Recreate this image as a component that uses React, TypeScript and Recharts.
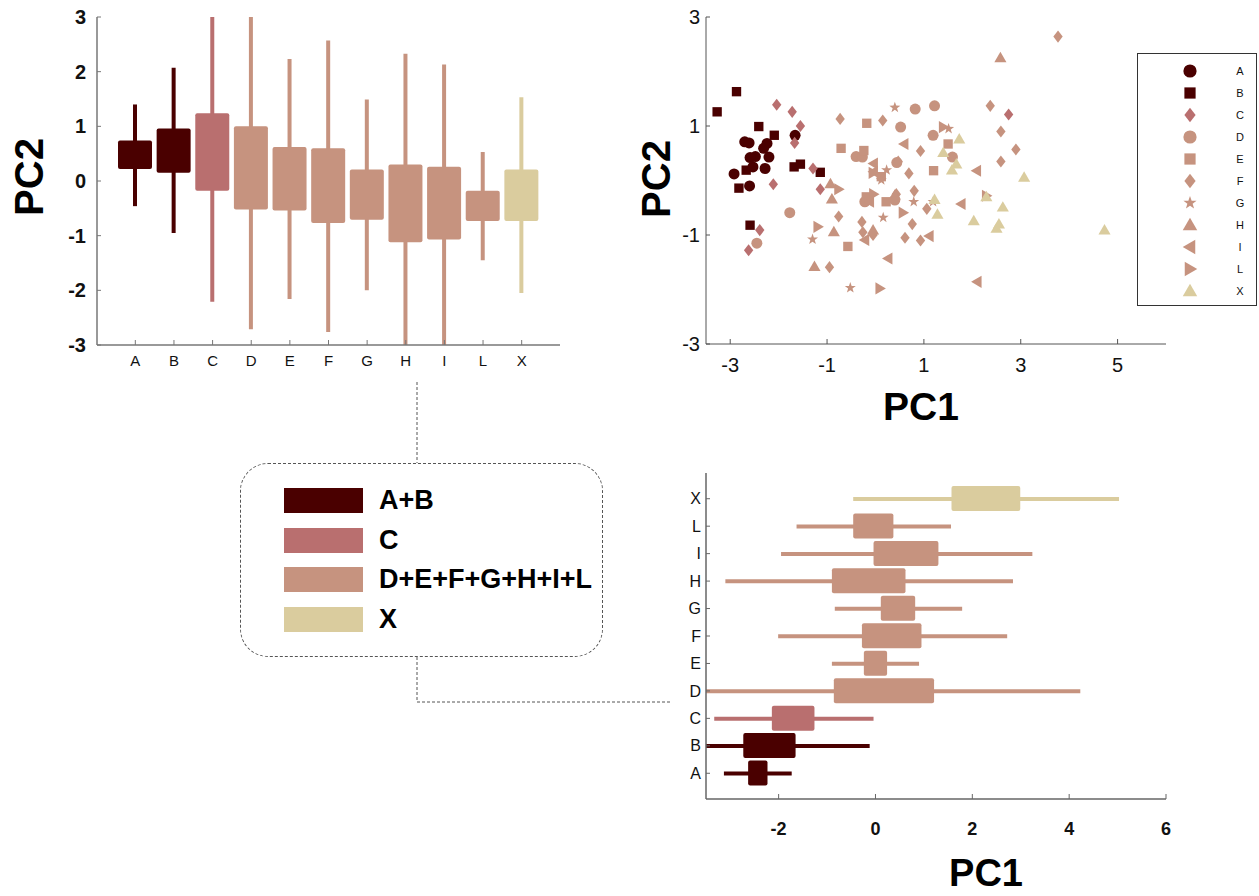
import React from 'react';
import {
    ComposedChart,
    ScatterChart,
    Scatter,
    Bar,
    Cell,
    XAxis,
    YAxis,
    Legend
} from 'recharts';

const FONT = '"Liberation Sans", Arial, Helvetica, sans-serif';

// groups, colours and marker kinds
const groups = ['A', 'B', 'C', 'D', 'E', 'F', 'G', 'H', 'I', 'L', 'X'];
const groupColors = ['#4a0000', '#4a0000', '#b96f6f', '#c6937f', '#c6937f', '#c6937f', '#c6937f', '#c6937f', '#c6937f', '#c6937f', '#dacc9e'];
const groupMarkers = ['circle', 'square', 'diamond', 'circle', 'square', 'diamond', 'star', 'triangle', 'triangleLeft', 'triangleRight', 'triangle'];

// PC2 by group (top left)
const pc2Q1 = [0.22, 0.15, -0.18, -0.52, -0.54, -0.77, -0.71, -1.12, -1.07, -0.73, -0.73];
const pc2Q3 = [0.74, 0.96, 1.24, 1.00, 0.62, 0.60, 0.21, 0.30, 0.26, -0.18, 0.21];
const pc2Min = [-0.46, -0.95, -2.21, -2.71, -2.16, -2.76, -2.00, -3.00, -3.00, -1.45, -2.05];
const pc2Max = [1.40, 2.07, 3.00, 3.00, 2.23, 2.57, 1.49, 2.33, 2.13, 0.53, 1.53];

// PC1 by group (bottom right)
const pc1Q1 = [-2.63, -2.73, -2.14, -0.86, -0.24, -0.28, 0.11, -0.90, -0.04, -0.46, 1.57];
const pc1Q3 = [-2.23, -1.65, -1.26, 1.21, 0.24, 0.95, 0.82, 0.62, 1.30, 0.37, 2.99];
const pc1Min = [-3.13, -3.50, -3.33, -3.50, -0.90, -2.01, -0.84, -3.10, -1.95, -1.63, -0.46];
const pc1Max = [-1.73, -0.12, -0.04, 4.23, 0.90, 2.72, 1.79, 2.84, 3.24, 1.56, 5.03];

// PCA scores [PC1, PC2]
const scoresA = [[-2.70, 0.71], [-2.61, 0.69], [-2.24, 0.68], [-2.31, 0.59], [-2.48, 0.44], [-2.59, 0.42], [-2.20, 0.43], [-2.53, 0.25], [-2.28, 0.22], [-2.92, 0.12], [-2.60, -0.10], [-1.66, 0.83]];
const scoresB = [[-3.27, 1.26], [-2.87, 1.63], [-2.41, 0.99], [-2.09, 0.83], [-2.67, 0.19], [-2.82, -0.14], [-2.59, -0.82], [-1.68, 0.25], [-1.55, 0.30], [-1.14, 0.15]];
const scoresC = [[-2.04, 1.39], [-1.72, 1.26], [-1.55, 1.00], [-1.67, 0.69], [-1.29, 0.22], [-1.14, -0.16], [-2.11, -0.07], [-2.39, -0.91], [-2.62, -1.28], [2.75, 1.21]];
const scoresD = [[0.52, 0.98], [0.82, 1.31], [1.22, 1.37], [1.19, 0.83], [1.59, 0.43], [-0.40, 0.44], [-0.27, 0.43], [-0.22, -0.39], [-1.77, -0.59], [-2.45, -1.15], [0.44, 0.33], [0.40, -0.36]];
const scoresE = [[-0.18, 1.05], [-0.71, 0.59], [-0.24, 0.55], [0.12, 0.07], [1.20, 0.18], [1.50, 0.67], [-0.57, -1.21], [0.22, -0.39], [-0.19, -0.30]];
const scoresF = [[-0.73, 1.13], [0.15, 1.10], [0.93, 0.54], [0.47, 0.35], [0.69, 0.13], [0.80, -0.19], [-0.76, -0.66], [-0.28, -0.76], [-0.26, -0.95], [-0.05, -1.00], [0.76, -0.80], [0.61, -1.05], [0.93, -1.10], [1.06, -0.52], [2.37, 1.37], [2.59, 0.90], [2.90, 0.57], [2.59, 0.35], [-0.95, -1.59], [3.77, 2.64], [0.43, -0.25]];
const scoresG = [[0.40, 1.34], [1.51, 0.95], [0.23, 0.19], [0.12, 0.01], [0.79, -0.39], [0.16, -0.68], [-1.30, -1.08], [-0.52, -1.97], [1.19, -0.39]];
const scoresH = [[2.58, 2.25], [-0.93, -0.06], [-0.90, -0.34], [-0.86, -0.94], [-1.26, -1.58], [-0.05, -0.91], [0.40, -0.27]];
const scoresI = [[0.59, 0.67], [-0.04, 0.31], [2.09, 0.18], [1.77, -0.43], [1.11, -1.02], [0.26, -1.43], [2.10, -1.86], [-0.04, 0.16], [-0.22, -1.09], [-0.12, -0.39]];
const scoresL = [[1.40, 0.98], [-0.05, 0.14], [-0.76, -0.16], [-0.04, -0.25], [-1.19, -0.85], [0.57, -0.59], [0.09, -1.98], [2.29, -0.28]];
const scoresX = [[1.73, 0.76], [1.40, 0.51], [1.67, 0.30], [1.58, 0.19], [3.07, 0.06], [1.22, -0.35], [1.28, -0.62], [2.29, -0.30], [2.63, -0.49], [2.03, -0.74], [2.55, -0.80], [2.50, -0.88], [4.73, -0.91]];
const scoresByGroup = [scoresA, scoresB, scoresC, scoresD, scoresE, scoresF, scoresG, scoresH, scoresI, scoresL, scoresX];

// merged groups legend
const mergedLabels = ['A+B', 'C', 'D+E+F+G+H+I+L', 'X'];
const mergedColors = ['#4a0000', '#b96f6f', '#c6937f', '#dacc9e'];

const pc2Rows = groups.map((g, i) => ({
    name: g,
    box: [pc2Q1[i], pc2Q3[i]],
    whisker: [pc2Min[i], pc2Max[i]]
}));

const pc1Rows = groups.map((g, i) => ({
    name: g,
    box: [pc1Q1[i], pc1Q3[i]],
    whisker: [pc1Min[i], pc1Max[i]]
}));

const Marker = ({ cx, cy, fill, kind, s = 1 }: any) => {
    if (cx === undefined || cy === undefined) return null;
    const r = 5.5 * s;
    switch (kind) {
        case 'circle':
            return <circle cx={cx} cy={cy} r={r} fill={fill} />;
        case 'square':
            return <rect x={cx - r * 0.85} y={cy - r * 0.85} width={r * 1.7} height={r * 1.7} fill={fill} />;
        case 'diamond':
            return <polygon points={`${cx},${cy - r * 1.1} ${cx + r * 0.85},${cy} ${cx},${cy + r * 1.1} ${cx - r * 0.85},${cy}`} fill={fill} />;
        case 'star': {
            const pts: string[] = [];
            for (let k = 0; k < 10; k++) {
                const rad = k % 2 === 0 ? r * 1.05 : r * 0.42;
                const a = -Math.PI / 2 + (k * Math.PI) / 5;
                pts.push(`${cx + rad * Math.cos(a)},${cy + rad * Math.sin(a)}`);
            }
            return <polygon points={pts.join(' ')} fill={fill} />;
        }
        case 'triangle':
            return <polygon points={`${cx},${cy - r * 1.1} ${cx + r * 1.1},${cy + r * 0.8} ${cx - r * 1.1},${cy + r * 0.8}`} fill={fill} />;
        case 'triangleLeft':
            return <polygon points={`${cx - r * 1.1},${cy} ${cx + r * 0.8},${cy - r * 1.1} ${cx + r * 0.8},${cy + r * 1.1}`} fill={fill} />;
        case 'triangleRight':
            return <polygon points={`${cx + r * 1.1},${cy} ${cx - r * 0.8},${cy - r * 1.1} ${cx - r * 0.8},${cy + r * 1.1}`} fill={fill} />;
        default:
            return null;
    }
};

const ScoreLegend = () => (
    <div style={{ width: 120, height: 253, border: '1.5px solid #333', boxSizing: 'border-box', background: '#fff' }}>
        <svg width={117} height={250}>
            {groups.map((g, i) => (
                <g key={g}>
                    <Marker cx={52} cy={17 + i * 22} fill={groupColors[i]} kind={groupMarkers[i]} s={1.2} />
                    <text x={102} y={17 + i * 22} dy="0.36em" textAnchor="middle" fontSize={11} fontFamily={FONT} fill="#111">{g}</text>
                </g>
            ))}
        </svg>
    </div>
);

const App: React.FC = () => {
    const cells = groups.map((g, i) => <Cell key={`c-${g}`} fill={groupColors[i]} />);

    return (
        <div style={{ position: 'absolute', left: 0, top: 0, width: 1259, height: 896, background: '#fff', fontFamily: FONT }}>
            {/* PC2 by group */}
            <div style={{ position: 'absolute', left: 0, top: 0 }}>
                <ComposedChart width={580} height={380} data={pc2Rows} margin={{ top: 17, right: 20, bottom: 5, left: 37 }}>
                    <XAxis
                        xAxisId="box"
                        dataKey="name"
                        type="category"
                        interval={0}
                        padding={{ left: 19, right: 19 }}
                        height={30}
                        axisLine={{ stroke: '#777', strokeWidth: 1.5 }}
                        tickLine={{ stroke: '#777' }}
                        tickSize={-5}
                        tickMargin={15}
                        tick={{ fontSize: 15, fill: '#111', fontFamily: FONT }}
                    />
                    <XAxis xAxisId="wh" dataKey="name" type="category" padding={{ left: 19, right: 19 }} hide />
                    <YAxis
                        type="number"
                        domain={[-3, 3]}
                        ticks={[-3, -2, -1, 0, 1, 2, 3]}
                        allowDataOverflow
                        width={60}
                        axisLine={{ stroke: '#777', strokeWidth: 1.5 }}
                        tickLine={{ stroke: '#777' }}
                        tickSize={-4}
                        tickMargin={15}
                        tick={{ fontSize: 20, fontWeight: 'bold', fill: '#111', fontFamily: FONT }}
                    />
                    <Bar xAxisId="wh" dataKey="whisker" barSize={4} isAnimationActive={false}>{cells}</Bar>
                    <Bar xAxisId="box" dataKey="box" barSize={34} radius={2} isAnimationActive={false}>{cells}</Bar>
                </ComposedChart>
            </div>

            {/* PCA scores */}
            <div style={{ position: 'absolute', left: 600, top: 0 }}>
                <ScatterChart width={659} height={400} margin={{ top: 17, right: 93, bottom: 16, left: 56 }}>
                    <XAxis
                        dataKey="x"
                        type="number"
                        domain={[-3.5, 6]}
                        ticks={[-3, -1, 1, 3, 5]}
                        allowDataOverflow
                        height={40}
                        axisLine={{ stroke: '#555' }}
                        tickLine={{ stroke: '#555' }}
                        tickSize={-5}
                        tickMargin={19}
                        tick={{ fontSize: 20, fill: '#111', fontFamily: FONT }}
                    />
                    <YAxis
                        dataKey="y"
                        type="number"
                        domain={[-3, 3]}
                        ticks={[-3, -1, 1, 3]}
                        allowDataOverflow
                        width={50}
                        axisLine={{ stroke: '#555' }}
                        tickLine={{ stroke: '#555' }}
                        tickSize={-4}
                        tickMargin={10}
                        tick={{ fontSize: 20, fill: '#111', fontFamily: FONT }}
                    />
                    {scoresByGroup.map((pts, i) => (
                        <Scatter
                            key={groups[i]}
                            name={groups[i]}
                            data={pts.map(([x, y]) => ({ x, y }))}
                            isAnimationActive={false}
                            shape={(p: any) => <Marker cx={p.cx} cy={p.cy} fill={groupColors[i]} kind={groupMarkers[i]} />}
                        />
                    ))}
                    <Legend
                        layout="vertical"
                        align="center"
                        verticalAlign="middle"
                        wrapperStyle={{ left: 537, top: 53, width: 120, height: 253 }}
                        content={() => <ScoreLegend />}
                    />
                </ScatterChart>
            </div>

            {/* PC1 by group */}
            <div style={{ position: 'absolute', left: 640, top: 440 }}>
                <ComposedChart layout="vertical" width={600} height={420} data={pc1Rows} margin={{ top: 33, right: 74, bottom: 11, left: 26 }}>
                    <XAxis
                        type="number"
                        domain={[-3.5, 6]}
                        ticks={[-2, 0, 2, 4, 6]}
                        allowDataOverflow
                        height={50}
                        axisLine={{ stroke: '#666', strokeWidth: 1.5 }}
                        tickLine={{ stroke: '#666' }}
                        tickSize={-5}
                        tickMargin={28}
                        tick={{ fontSize: 18, fontWeight: 'bold', fill: '#111', fontFamily: FONT }}
                    />
                    <YAxis
                        yAxisId="box"
                        dataKey="name"
                        type="category"
                        reversed
                        interval={0}
                        padding={{ top: 12, bottom: 12 }}
                        width={40}
                        axisLine={{ stroke: '#666', strokeWidth: 1.5 }}
                        tickLine={{ stroke: '#666' }}
                        tickSize={-4}
                        tickMargin={9}
                        tick={{ fontSize: 16, fill: '#111', fontFamily: FONT }}
                    />
                    <YAxis yAxisId="wh" dataKey="name" type="category" reversed padding={{ top: 12, bottom: 12 }} hide />
                    <Bar yAxisId="wh" dataKey="whisker" barSize={4} isAnimationActive={false}>{cells}</Bar>
                    <Bar yAxisId="box" dataKey="box" barSize={25} radius={2} isAnimationActive={false}>{cells}</Bar>
                </ComposedChart>
            </div>

            {/* merged groups */}
            <div style={{
                position: 'absolute', left: 240, top: 463, width: 363, height: 194,
                border: '1px dashed #555', borderRadius: 28, boxSizing: 'border-box'
            }}>
                {mergedLabels.map((lab, i) => (
                    <div key={lab} style={{ position: 'absolute', left: 43, top: [24, 64, 103, 143][i], height: 25, display: 'flex', alignItems: 'center' }}>
                        <div style={{ width: 79, height: 25, background: mergedColors[i] }} />
                        <span style={{ marginLeft: 16, fontSize: 27, fontWeight: 'bold', color: '#000', lineHeight: '25px' }}>{lab}</span>
                    </div>
                ))}
            </div>

            {/* titles and connectors */}
            <svg width={1259} height={896} style={{ position: 'absolute', left: 0, top: 0, pointerEvents: 'none' }}>
                <path d="M417,382 V463 M417,657 V702 H670" fill="none" stroke="#555" strokeWidth={1} strokeDasharray="3 2" />
                <text x={43} y={177} transform="rotate(-90 43 177)" textAnchor="middle" fontSize={40} fontWeight="bold" fontFamily={FONT} fill="#000">PC2</text>
                <text x={670} y={179} transform="rotate(-90 670 179)" textAnchor="middle" fontSize={40} fontWeight="bold" fontFamily={FONT} fill="#000">PC2</text>
                <text x={921} y={420} textAnchor="middle" fontSize={39} fontWeight="bold" fontFamily={FONT} fill="#000">PC1</text>
                <text x={986} y={886} textAnchor="middle" fontSize={38} fontWeight="bold" fontFamily={FONT} fill="#000">PC1</text>
            </svg>
        </div>
    );
};

export default App;
